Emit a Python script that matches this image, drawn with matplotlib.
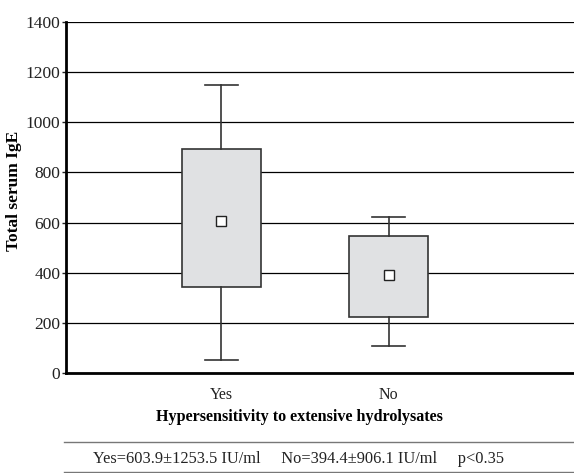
import matplotlib
matplotlib.use("Agg")
import matplotlib.pyplot as plt
import numpy as np

plt.rcParams['font.family'] = ['Liberation Serif', 'DejaVu Serif']

# group data
groups = ["Yes", "No"]
whisker_low = [50, 108]
q1 = [345, 222]
q3 = [895, 545]
whisker_high = [1150, 622]
means = [605, 392]
yticks = [0, 200, 400, 600, 800, 1000, 1200, 1400]
summary = "Yes=603.9\u00b11253.5 IU/ml     No=394.4\u00b1906.1 IU/ml     p<0.35"

fig = plt.figure(figsize=(5.74, 4.73), dpi=100)
ax = fig.add_axes([0.115, 0.2114, 0.885, 0.7421])

stats = []
for i, g in enumerate(groups):
    stats.append(dict(label=g, whislo=whisker_low[i], q1=q1[i], med=np.nan,
                      q3=q3[i], whishi=whisker_high[i], mean=means[i], fliers=[]))

pos = np.arange(1, len(groups) + 1)
ax.set_axisbelow(True)
ax.yaxis.grid(True, color="black", linewidth=0.9)
ax.bxp(stats, positions=pos, widths=0.47, patch_artist=True, showmeans=True,
       showfliers=False,
       boxprops=dict(facecolor="#e0e1e3", edgecolor="#333333", linewidth=1.2),
       whiskerprops=dict(color="#333333", linewidth=1.2),
       capprops=dict(color="#333333", linewidth=1.2),
       medianprops=dict(linewidth=0),
       meanprops=dict(marker="s", markerfacecolor="white", markeredgecolor="#222222",
                      markersize=7, markeredgewidth=1.0),
       capwidths=0.2)

ax.set_xlim(0.07, 3.11)
ax.set_ylim(0, 1400)
ax.set_yticks(yticks)
ax.tick_params(axis="y", length=3, width=1, labelsize=12.5, colors="#222222", pad=1)
ax.tick_params(axis="x", length=0, labelsize=11.5, pad=10, colors="#222222")
ax.set_xticks(pos)
ax.set_xticklabels(groups)
for s in ["top", "right"]:
    ax.spines[s].set_visible(False)
for s in ["left", "bottom"]:
    ax.spines[s].set_linewidth(2)
ax.set_ylabel("Total serum IgE", fontsize=12.5, fontweight="bold")
ax.yaxis.set_label_coords(-0.087, 0.518)
ax.set_xlabel("Hypersensitivity to extensive hydrolysates", fontsize=11.6,
              fontweight="bold")
ax.xaxis.set_label_coords(0.459, -0.103)

# summary line under the chart
fig.add_artist(plt.Line2D([64 / 574, 1], [1 - 442 / 473] * 2, color="#777777", linewidth=1))
fig.add_artist(plt.Line2D([64 / 574, 1], [1 - 472 / 473] * 2, color="#777777", linewidth=1))
fig.text(0.52, 1 - 459 / 473, summary, ha="center", va="center", fontsize=11.8, color="#222222")

fig.savefig("out.png", dpi=100)
